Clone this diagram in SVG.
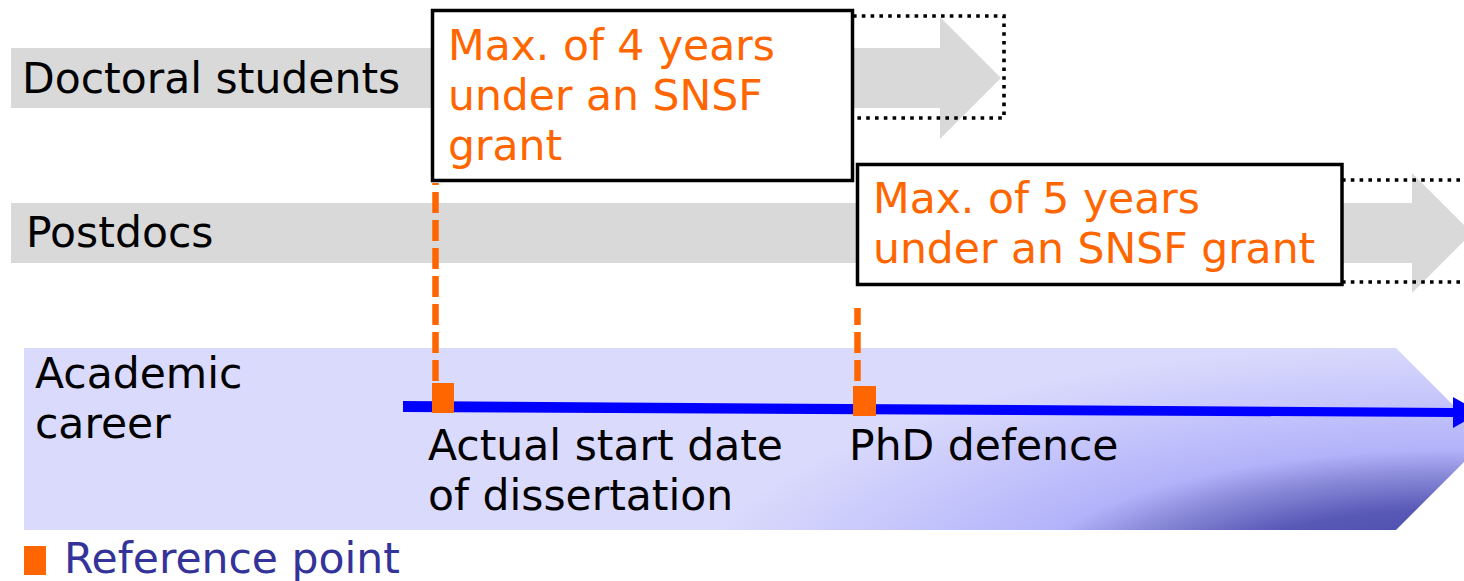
<svg xmlns="http://www.w3.org/2000/svg" width="1464" height="581" viewBox="0 0 1464 581">
<style>
text{font-family:"DejaVu Sans",Verdana,sans-serif;font-size:42.5px}
.lbl{fill:#000}
.org{fill:#ff6600}
.band{fill:#d9d9d9}
.box{fill:#fff;stroke:#000;stroke-width:3.5}
.dot{fill:none;stroke:#000;stroke-width:3.6;stroke-dasharray:3.6 5.2}
.dash{stroke:#ff6600;stroke-width:6.5;stroke-dasharray:21 7;fill:none}
.mark{fill:#ff6600}
</style>
<defs>
<radialGradient id="career" gradientUnits="userSpaceOnUse" cx="1450" cy="600" r="760" gradientTransform="translate(1450 600) scale(1 0.34) translate(-1450 -600)">
<stop offset="0" stop-color="#3c3c9c"/>
<stop offset="0.35" stop-color="#5858b6"/>
<stop offset="0.5" stop-color="#9090de"/>
<stop offset="0.58" stop-color="#b2b2fa"/>
<stop offset="0.78" stop-color="#c6c6fc"/>
<stop offset="1" stop-color="#dadafc"/>
</radialGradient>
</defs>

<g id="career-track">
<polygon points="24,348 1396,348 1487,439 1396,530 24,530" fill="url(#career)"/>
<text class="lbl" x="35" y="388">Academic</text>
<text class="lbl" x="35" y="438">career</text>
</g>

<g id="doctoral-track">
<polygon class="band" points="11,48 940,48 940,17 1001,78 940,139 940,108 11,108"/>
<text class="lbl" x="22" y="93">Doctoral students</text>
<path class="dot" d="M853,16 H1004 V118 H853"/>
</g>

<g id="postdoc-track">
<polygon class="band" points="11,203 1412,203 1412,173 1472,233 1412,293 1412,263 11,263"/>
<text class="lbl" x="26" y="247">Postdocs</text>
<path class="dot" d="M1342,180 H1464 M1342,282 H1464"/>
</g>

<g id="box-doctoral">
<rect class="box" x="432.5" y="10.5" width="420" height="170"/>
<text class="org" x="448" y="60">Max. of 4 years</text>
<text class="org" x="448" y="110">under an SNSF</text>
<text class="org" x="448" y="160">grant</text>
</g>

<g id="box-postdoc">
<rect class="box" x="857.5" y="164.5" width="484.5" height="120"/>
<text class="org" x="873" y="213">Max. of 5 years</text>
<text class="org" x="873" y="263">under an SNSF grant</text>
</g>

<g id="connectors">
<path class="dash" d="M435.5,381 V183"/>
<path class="dash" d="M857.5,381 V308"/>
<polygon points="403,401 1454,408 1454,417 403,412" fill="#0000ff"/>
<polygon points="1453,397 1480,412.5 1453,428" fill="#0000ff"/>
</g>

<g id="start-point">
<rect class="mark" x="432" y="383" width="22" height="30"/>
<text class="lbl" x="428" y="460">Actual start date</text>
<text class="lbl" x="428" y="510">of dissertation</text>
</g>

<g id="phd-point">
<rect class="mark" x="853" y="386" width="23" height="30"/>
<text class="lbl" x="849" y="460">PhD defence</text>
</g>

<g id="legend">
<rect class="mark" x="24" y="546" width="22" height="29"/>
<text x="64" y="573" fill="#333399">Reference point</text>
</g>
</svg>
